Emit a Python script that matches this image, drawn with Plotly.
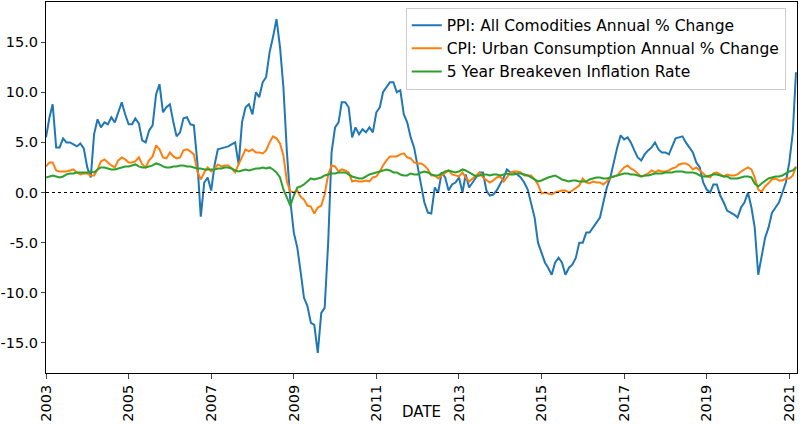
import pandas as pd
import plotly.graph_objects as go

dates = pd.date_range("2003-01-01", "2021-03-01", freq="MS")

ppi = [5.5,7.5,8.8,4.5,4.5,5.4,5.0,5.0,4.8,4.6,4.9,4.4,
       2.5,1.5,5.8,7.3,6.5,7.0,6.8,7.5,7.0,8.0,9.0,7.8,
       6.8,6.8,7.4,6.9,5.2,5.0,6.2,6.7,9.8,10.8,8.0,8.5,
       8.8,7.0,5.6,6.0,7.4,7.5,6.8,6.7,3.0,-2.4,1.0,1.5,
       0.2,2.8,4.3,4.4,4.5,4.6,4.8,5.0,2.8,7.0,8.5,8.8,
       7.8,10.0,9.5,11.0,11.5,14.0,15.5,17.3,14.5,10.5,4.0,-0.8,
       -4.0,-5.5,-7.8,-10.5,-11.3,-13.0,-13.2,-16.0,-12.0,-11.5,-5.0,4.0,
       6.5,7.0,9.0,9.0,8.5,5.5,6.5,5.8,6.3,6.0,6.5,6.0,
       8.0,8.5,10.0,10.5,11.0,11.0,10.0,10.2,7.8,7.0,5.5,4.5,
       2.5,0.5,-1.0,-2.0,-2.1,0.5,0.0,2.0,1.5,0.2,0.8,1.0,
       1.5,0.0,1.8,0.5,1.0,1.5,2.0,2.0,0.2,-0.3,-0.2,0.2,
       0.8,1.5,2.3,2.0,2.0,1.8,1.5,1.0,0.3,-1.0,-2.5,-5.0,
       -6.0,-7.0,-7.5,-8.2,-7.0,-6.5,-7.0,-8.2,-7.5,-7.2,-6.5,-5.0,
       -5.0,-4.0,-4.0,-3.5,-3.0,-2.5,-1.0,0.5,1.5,3.0,4.5,5.7,
       5.3,5.5,5.0,4.2,3.5,3.2,3.8,4.2,4.5,5.0,4.3,4.0,
       4.0,3.8,4.5,5.4,5.5,5.6,5.0,4.5,4.0,3.0,2.5,1.0,
       0.3,0.0,0.8,0.8,-0.3,-1.0,-1.8,-2.0,-2.2,-2.5,-1.5,-1.0,
       0.0,-1.5,-3.5,-8.2,-6.5,-4.5,-3.5,-2.0,-1.5,-1.0,0.0,1.0,
       3.0,6.0,12.0]

cpi = [2.6,3.0,3.0,2.2,2.1,2.1,2.1,2.2,2.3,2.0,1.8,1.9,
       1.9,1.7,1.7,2.3,3.1,3.3,3.0,2.7,2.5,3.2,3.5,3.3,
       3.0,3.0,3.1,3.5,2.8,2.5,3.2,3.6,4.7,4.3,3.5,3.4,
       4.0,3.6,3.4,3.5,4.2,4.3,4.1,3.8,2.1,1.3,2.0,2.5,
       2.1,2.4,2.8,2.6,2.7,2.7,2.4,2.0,2.8,3.5,4.3,4.1,
       4.3,4.0,4.0,3.9,4.2,5.0,5.6,5.4,4.9,3.7,1.1,0.1,
       0.0,0.2,-0.4,-0.7,-1.3,-1.4,-2.1,-1.5,-1.3,-0.2,1.8,2.7,
       2.6,2.1,2.3,2.2,2.0,1.1,1.2,1.1,1.1,1.2,1.1,1.5,
       1.6,2.1,2.7,3.2,3.6,3.6,3.6,3.8,3.9,3.5,3.4,3.0,
       2.9,2.9,2.7,2.3,1.7,1.7,1.4,1.7,2.0,2.2,1.8,1.7,
       1.6,2.0,1.5,1.1,1.4,1.8,2.0,1.5,1.2,1.0,1.2,1.5,
       1.6,1.1,1.5,2.0,2.1,2.1,2.0,1.7,1.7,1.7,1.3,0.8,
       -0.1,0.0,-0.1,-0.2,0.0,0.1,0.2,0.2,0.0,0.2,0.5,0.7,
       1.4,1.0,0.9,1.1,1.0,1.0,0.8,1.1,1.5,1.6,1.7,2.1,
       2.5,2.7,2.4,2.2,1.9,1.6,1.7,1.9,2.2,2.0,2.2,2.1,
       2.1,2.2,2.4,2.5,2.8,2.9,2.9,2.7,2.3,2.5,2.2,1.9,
       1.6,1.5,1.9,2.0,1.8,1.6,1.8,1.7,1.7,1.8,2.1,2.3,
       2.5,2.3,1.5,0.3,0.1,0.6,1.0,1.3,1.4,1.2,1.2,1.4,
       1.4,1.7,2.6]

bei = [1.5,1.6,1.7,1.6,1.5,1.6,1.8,1.9,1.9,2.0,2.0,2.0,
       2.0,2.1,2.0,2.3,2.5,2.5,2.4,2.3,2.3,2.4,2.5,2.6,
       2.6,2.7,2.8,2.6,2.5,2.5,2.6,2.7,2.9,2.8,2.6,2.5,
       2.5,2.6,2.6,2.7,2.7,2.6,2.6,2.5,2.4,2.4,2.3,2.3,
       2.3,2.3,2.4,2.4,2.5,2.5,2.4,2.2,2.1,2.2,2.3,2.2,
       2.3,2.4,2.4,2.5,2.4,2.5,2.3,2.0,1.5,0.3,-0.5,-1.3,
       -0.3,0.5,0.6,0.8,1.1,1.4,1.3,1.4,1.5,1.7,1.8,1.9,
       1.9,2.0,2.0,2.0,1.8,1.6,1.5,1.4,1.4,1.6,1.8,1.9,
       2.0,2.1,2.2,2.3,2.2,2.0,2.0,1.8,1.7,1.7,1.9,1.8,
       1.8,2.0,2.1,2.0,1.8,1.7,1.7,1.9,2.1,2.2,2.1,2.0,
       2.1,2.3,2.2,2.0,1.8,1.6,1.7,1.8,1.8,1.7,1.8,1.8,
       1.7,1.8,1.9,1.8,1.8,1.9,1.9,1.8,1.7,1.5,1.3,1.1,
       1.2,1.4,1.5,1.6,1.7,1.5,1.3,1.2,1.1,1.2,1.2,1.1,
       1.1,1.1,1.3,1.4,1.5,1.5,1.4,1.4,1.5,1.6,1.7,1.8,
       1.9,1.9,1.8,1.8,1.7,1.6,1.7,1.7,1.8,1.9,1.9,1.9,
       2.0,2.0,2.0,2.1,2.1,2.1,2.0,2.0,2.0,1.9,1.7,1.6,
       1.6,1.7,1.8,1.8,1.7,1.6,1.6,1.4,1.4,1.4,1.5,1.6,
       1.6,1.5,0.9,0.6,0.9,1.2,1.4,1.5,1.6,1.6,1.7,1.9,
       2.1,2.2,2.5]

ytickvals = [-15, -10, -5, 0, 5, 10, 15]
yticktext = ["-15.0", "-10.0", "-5.0", "0.0", "5.0", "10.0", "15.0"]
tickyears = list(range(2003, 2022, 2))

fig = go.Figure()
fig.add_trace(go.Scatter(x=dates, y=ppi, mode="lines", name="PPI: All Comodities Annual % Change",
                         line=dict(color="#1f77b4", width=2)))
fig.add_trace(go.Scatter(x=dates, y=cpi, mode="lines", name="CPI: Urban Consumption Annual % Change",
                         line=dict(color="#ff7f0e", width=2)))
fig.add_trace(go.Scatter(x=dates, y=bei, mode="lines", name="5 Year Breakeven Inflation Rate",
                         line=dict(color="#2ca02c", width=2)))
fig.add_hline(y=0, line=dict(color="black", width=1, dash="dot"))

fig.update_layout(
    width=800, height=427, paper_bgcolor="white", plot_bgcolor="white",
    margin=dict(l=46, r=3, t=2, b=54, autoexpand=False),
    font=dict(family="DejaVu Sans", size=14.5, color="black"),
    legend=dict(x=0.985, y=0.985, xanchor="right", yanchor="top", bordercolor="#cccccc",
                borderwidth=1, font=dict(size=15.5), bgcolor="rgba(255,255,255,0.8)"),
    showlegend=True,
    annotations=[dict(text="DATE", xref="paper", yref="paper", x=0.5, y=0, yshift=-28,
                      yanchor="top", showarrow=False, font=dict(size=15))],
)
fig.update_xaxes(range=[pd.Timestamp("2003-01-01"), pd.Timestamp("2021-03-10")],
                 tickvals=[pd.Timestamp(f"{y}-01-01") for y in tickyears],
                 ticktext=[str(y) for y in tickyears], tickangle=-90,
                 showgrid=False, showline=True, linecolor="black", mirror=True,
                 ticks="outside", automargin=False)
fig.update_yaxes(range=[-18.0, 19.0], tickvals=ytickvals, ticktext=yticktext,
                 showgrid=False, showline=True, linecolor="black", mirror=True,
                 ticks="outside", ticklen=4, zeroline=False, automargin=False)
fig.write_html("out.html", config={"displayModeBar": False},
               post_script="document.body.style.margin='0';document.body.style.overflow='hidden';")
